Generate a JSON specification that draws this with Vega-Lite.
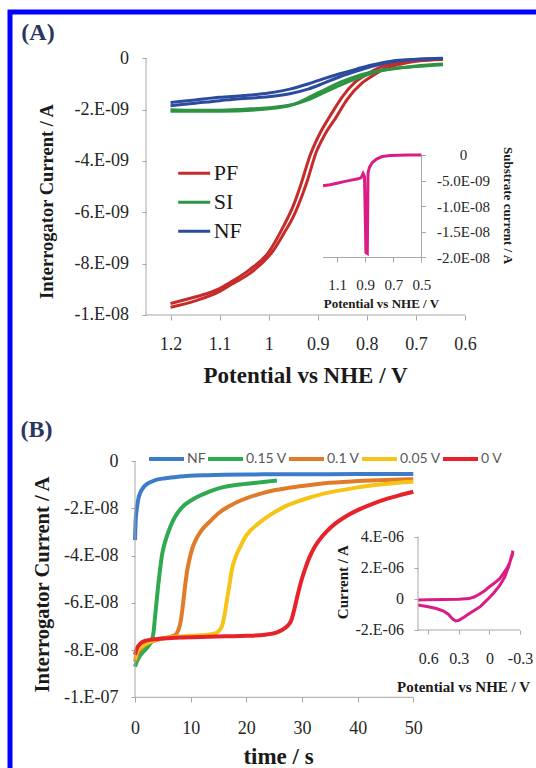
{
  "$schema": "https://vega.github.io/schema/vega-lite/v6.json",
  "width": 532,
  "height": 762,
  "autosize": "none",
  "padding": {"left": 10, "top": 12, "right": -6, "bottom": -6},
  "background": "white",
  "config": {
    "view": {"stroke": "#0000FF", "strokeWidth": 5},
    "axis": {"domain": false, "grid": false, "tickColor": "#A6A6A6", "tickWidth": 1, "labelColor": "#262626", "titleColor": "#1a1a1a", "labelFont": "Liberation Serif", "titleFont": "Liberation Serif", "titleFontWeight": "bold", "labelOverlap": false, "labelFlush": false, "labelBound": false, "titleAlign": "center", "titleBaseline": "middle"}
  },
  "datasets": {
    "pA": [
      {"s":"PF","tr":"a","v":1.2,"i":-9.55e-9},{"s":"PF","tr":"a","v":1.15,"i":-9.3e-9},{"s":"PF","tr":"a","v":1.1,"i":-8.97e-9},{"s":"PF","tr":"a","v":1.08,"i":-8.75e-9},{"s":"PF","tr":"a","v":1.04,"i":-8.25e-9},{"s":"PF","tr":"a","v":1.0,"i":-7.55e-9},{"s":"PF","tr":"a","v":0.97,"i":-6.55e-9},{"s":"PF","tr":"a","v":0.95,"i":-5.75e-9},{"s":"PF","tr":"a","v":0.935,"i":-4.95e-9},{"s":"PF","tr":"a","v":0.915,"i":-3.75e-9},{"s":"PF","tr":"a","v":0.895,"i":-2.9e-9},{"s":"PF","tr":"a","v":0.875,"i":-2.25e-9},{"s":"PF","tr":"a","v":0.85,"i":-1.5e-9},{"s":"PF","tr":"a","v":0.825,"i":-0.95e-9},{"s":"PF","tr":"a","v":0.8,"i":-0.62e-9},{"s":"PF","tr":"a","v":0.773,"i":-0.35e-9},{"s":"PF","tr":"a","v":0.74,"i":-0.2e-9},{"s":"PF","tr":"a","v":0.7,"i":-0.1e-9},{"s":"PF","tr":"a","v":0.645,"i":-0.04e-9},
      {"s":"PF","tr":"b","v":1.2,"i":-9.7e-9},{"s":"PF","tr":"b","v":1.15,"i":-9.45e-9},{"s":"PF","tr":"b","v":1.1,"i":-9.08e-9},{"s":"PF","tr":"b","v":1.08,"i":-8.85e-9},{"s":"PF","tr":"b","v":1.04,"i":-8.4e-9},{"s":"PF","tr":"b","v":0.99,"i":-7.47e-9},{"s":"PF","tr":"b","v":0.97,"i":-6.85e-9},{"s":"PF","tr":"b","v":0.95,"i":-6.18e-9},{"s":"PF","tr":"b","v":0.923,"i":-4.87e-9},{"s":"PF","tr":"b","v":0.903,"i":-3.65e-9},{"s":"PF","tr":"b","v":0.885,"i":-2.95e-9},{"s":"PF","tr":"b","v":0.862,"i":-2.28e-9},{"s":"PF","tr":"b","v":0.84,"i":-1.6e-9},{"s":"PF","tr":"b","v":0.81,"i":-0.97e-9},{"s":"PF","tr":"b","v":0.79,"i":-0.7e-9},{"s":"PF","tr":"b","v":0.765,"i":-0.42e-9},{"s":"PF","tr":"b","v":0.73,"i":-0.22e-9},{"s":"PF","tr":"b","v":0.7,"i":-0.12e-9},{"s":"PF","tr":"b","v":0.645,"i":-0.05e-9},
      {"s":"SI","tr":"a","v":1.2,"i":-2.0e-9},{"s":"SI","tr":"a","v":1.15,"i":-2.02e-9},{"s":"SI","tr":"a","v":1.1,"i":-2.02e-9},{"s":"SI","tr":"a","v":1.05,"i":-1.98e-9},{"s":"SI","tr":"a","v":1.0,"i":-1.93e-9},{"s":"SI","tr":"a","v":0.95,"i":-1.8e-9},{"s":"SI","tr":"a","v":0.92,"i":-1.62e-9},{"s":"SI","tr":"a","v":0.89,"i":-1.36e-9},{"s":"SI","tr":"a","v":0.855,"i":-1.05e-9},{"s":"SI","tr":"a","v":0.82,"i":-0.78e-9},{"s":"SI","tr":"a","v":0.79,"i":-0.58e-9},{"s":"SI","tr":"a","v":0.753,"i":-0.42e-9},{"s":"SI","tr":"a","v":0.7,"i":-0.3e-9},{"s":"SI","tr":"a","v":0.645,"i":-0.22e-9},
      {"s":"SI","tr":"b","v":1.2,"i":-2.06e-9},{"s":"SI","tr":"b","v":1.1,"i":-2.06e-9},{"s":"SI","tr":"b","v":1.0,"i":-1.97e-9},{"s":"SI","tr":"b","v":0.95,"i":-1.8e-9},{"s":"SI","tr":"b","v":0.9,"i":-1.35e-9},{"s":"SI","tr":"b","v":0.85,"i":-0.9e-9},{"s":"SI","tr":"b","v":0.8,"i":-0.58e-9},{"s":"SI","tr":"b","v":0.75,"i":-0.42e-9},{"s":"SI","tr":"b","v":0.7,"i":-0.32e-9},{"s":"SI","tr":"b","v":0.645,"i":-0.25e-9},
      {"s":"NF","tr":"a","v":1.2,"i":-1.72e-9},{"s":"NF","tr":"a","v":1.15,"i":-1.62e-9},{"s":"NF","tr":"a","v":1.1,"i":-1.52e-9},{"s":"NF","tr":"a","v":1.05,"i":-1.45e-9},{"s":"NF","tr":"a","v":1.0,"i":-1.35e-9},{"s":"NF","tr":"a","v":0.957,"i":-1.2e-9},{"s":"NF","tr":"a","v":0.92,"i":-1.0e-9},{"s":"NF","tr":"a","v":0.889,"i":-0.8e-9},{"s":"NF","tr":"a","v":0.855,"i":-0.6e-9},{"s":"NF","tr":"a","v":0.821,"i":-0.42e-9},{"s":"NF","tr":"a","v":0.787,"i":-0.25e-9},{"s":"NF","tr":"a","v":0.753,"i":-0.12e-9},{"s":"NF","tr":"a","v":0.7,"i":-0.04e-9},{"s":"NF","tr":"a","v":0.645,"i":0},
      {"s":"NF","tr":"b","v":1.2,"i":-1.85e-9},{"s":"NF","tr":"b","v":1.15,"i":-1.75e-9},{"s":"NF","tr":"b","v":1.1,"i":-1.65e-9},{"s":"NF","tr":"b","v":1.05,"i":-1.57e-9},{"s":"NF","tr":"b","v":1.0,"i":-1.5e-9},{"s":"NF","tr":"b","v":0.957,"i":-1.38e-9},{"s":"NF","tr":"b","v":0.92,"i":-1.2e-9},{"s":"NF","tr":"b","v":0.889,"i":-0.98e-9},{"s":"NF","tr":"b","v":0.855,"i":-0.72e-9},{"s":"NF","tr":"b","v":0.821,"i":-0.5e-9},{"s":"NF","tr":"b","v":0.787,"i":-0.3e-9},{"s":"NF","tr":"b","v":0.753,"i":-0.15e-9},{"s":"NF","tr":"b","v":0.7,"i":-0.05e-9},{"s":"NF","tr":"b","v":0.645,"i":-0.01e-9}
    ],
    "axA": [{"v":1.25,"i":0,"v2":1.25,"i2":-1e-8},{"v":1.25,"i":-1e-8,"v2":0.6,"i2":-1e-8}],
    "lblA": [{"label":"(A)","v":1.47006,"i":9.856e-10}],
    "inA": [
      {"v":1.2,"i":-6.0e-9},{"v":1.15,"i":-5.8e-9},{"v":1.1,"i":-5.5e-9},{"v":1.05,"i":-5.2e-9},{"v":1.0,"i":-4.9e-9},{"v":0.95,"i":-4.65e-9},{"v":0.93,"i":-4.45e-9},{"v":0.915,"i":-3.6e-9},{"v":0.905,"i":-4.2e-9},{"v":0.895,"i":-1.9e-8},{"v":0.885,"i":-1.92e-8},{"v":0.88,"i":-3.5e-9},{"v":0.87,"i":-2.4e-9},{"v":0.85,"i":-1.5e-9},{"v":0.82,"i":-0.8e-9},{"v":0.78,"i":-0.3e-9},{"v":0.72,"i":-0.1e-9},{"v":0.6,"i":0},{"v":0.5,"i":0}
    ],
    "axInA": [{"v":0.5,"i":0,"v2":0.5,"i2":-2e-8},{"v":1.2,"i":-2e-8,"v2":0.5,"i2":-2e-8}],
    "pB": [
      {"s":"NF","t":0,"c":-3.35e-8},{"s":"NF","t":0.1,"c":-2.6e-8},{"s":"NF","t":0.3,"c":-2.07e-8},{"s":"NF","t":0.6,"c":-1.6e-8},{"s":"NF","t":0.9,"c":-1.37e-8},{"s":"NF","t":1.5,"c":-1.12e-8},{"s":"NF","t":2.4,"c":-9.4e-9},{"s":"NF","t":3.5,"c":-8.2e-9},{"s":"NF","t":5.4,"c":-7.3e-9},{"s":"NF","t":8,"c":-6.6e-9},{"s":"NF","t":13,"c":-6.0e-9},{"s":"NF","t":20,"c":-5.7e-9},{"s":"NF","t":30,"c":-5.6e-9},{"s":"NF","t":40,"c":-5.55e-9},{"s":"NF","t":50,"c":-5.5e-9},
      {"s":"0.15 V","t":0,"c":-8.7e-8},{"s":"0.15 V","t":0.5,"c":-8.4e-8},{"s":"0.15 V","t":1,"c":-8.2e-8},{"s":"0.15 V","t":1.8,"c":-8.0e-8},{"s":"0.15 V","t":2.5,"c":-7.8e-8},{"s":"0.15 V","t":3.0,"c":-7.6e-8},{"s":"0.15 V","t":3.3,"c":-7.3e-8},{"s":"0.15 V","t":3.6,"c":-6.6e-8},{"s":"0.15 V","t":3.9,"c":-5.9e-8},{"s":"0.15 V","t":4.2,"c":-5.2e-8},{"s":"0.15 V","t":4.5,"c":-4.6e-8},{"s":"0.15 V","t":4.8,"c":-4.05e-8},{"s":"0.15 V","t":5.2,"c":-3.6e-8},{"s":"0.15 V","t":5.7,"c":-3.2e-8},{"s":"0.15 V","t":6.4,"c":-2.75e-8},{"s":"0.15 V","t":7.2,"c":-2.36e-8},{"s":"0.15 V","t":8.5,"c":-1.95e-8},{"s":"0.15 V","t":10.2,"c":-1.65e-8},{"s":"0.15 V","t":12.5,"c":-1.38e-8},{"s":"0.15 V","t":15,"c":-1.16e-8},{"s":"0.15 V","t":18,"c":-1.02e-8},{"s":"0.15 V","t":21,"c":-9.4e-9},{"s":"0.15 V","t":25.5,"c":-8.3e-9},
      {"s":"0.1 V","t":0,"c":-8.5e-8},{"s":"0.1 V","t":0.5,"c":-8.15e-8},{"s":"0.1 V","t":1.2,"c":-7.9e-8},{"s":"0.1 V","t":2,"c":-7.75e-8},{"s":"0.1 V","t":3.5,"c":-7.6e-8},{"s":"0.1 V","t":5,"c":-7.5e-8},{"s":"0.1 V","t":6.5,"c":-7.43e-8},{"s":"0.1 V","t":7.3,"c":-7.35e-8},{"s":"0.1 V","t":7.8,"c":-7.15e-8},{"s":"0.1 V","t":8.2,"c":-6.8e-8},{"s":"0.1 V","t":8.5,"c":-6.3e-8},{"s":"0.1 V","t":8.8,"c":-5.7e-8},{"s":"0.1 V","t":9.1,"c":-5.1e-8},{"s":"0.1 V","t":9.4,"c":-4.6e-8},{"s":"0.1 V","t":9.8,"c":-4.15e-8},{"s":"0.1 V","t":10.2,"c":-3.77e-8},{"s":"0.1 V","t":11,"c":-3.3e-8},{"s":"0.1 V","t":12,"c":-2.92e-8},{"s":"0.1 V","t":13.5,"c":-2.55e-8},{"s":"0.1 V","t":15,"c":-2.21e-8},{"s":"0.1 V","t":17,"c":-1.9e-8},{"s":"0.1 V","t":19.2,"c":-1.65e-8},{"s":"0.1 V","t":22,"c":-1.42e-8},{"s":"0.1 V","t":25.2,"c":-1.23e-8},{"s":"0.1 V","t":30,"c":-1.06e-8},{"s":"0.1 V","t":34,"c":-9.4e-9},{"s":"0.1 V","t":40,"c":-8.5e-9},{"s":"0.1 V","t":45,"c":-8.0e-9},{"s":"0.1 V","t":50,"c":-7.7e-9},
      {"s":"0.05 V","t":0,"c":-8.4e-8},{"s":"0.05 V","t":0.5,"c":-8.0e-8},{"s":"0.05 V","t":1.5,"c":-7.8e-8},{"s":"0.05 V","t":3,"c":-7.62e-8},{"s":"0.05 V","t":6,"c":-7.48e-8},{"s":"0.05 V","t":10,"c":-7.4e-8},{"s":"0.05 V","t":13,"c":-7.35e-8},{"s":"0.05 V","t":14.4,"c":-7.3e-8},{"s":"0.05 V","t":15,"c":-7.2e-8},{"s":"0.05 V","t":15.6,"c":-7.0e-8},{"s":"0.05 V","t":16.1,"c":-6.5e-8},{"s":"0.05 V","t":16.5,"c":-5.9e-8},{"s":"0.05 V","t":17,"c":-5.2e-8},{"s":"0.05 V","t":17.4,"c":-4.6e-8},{"s":"0.05 V","t":18.1,"c":-4.05e-8},{"s":"0.05 V","t":18.9,"c":-3.63e-8},{"s":"0.05 V","t":20,"c":-3.15e-8},{"s":"0.05 V","t":22.2,"c":-2.64e-8},{"s":"0.05 V","t":24.5,"c":-2.25e-8},{"s":"0.05 V","t":26.9,"c":-1.93e-8},{"s":"0.05 V","t":30,"c":-1.65e-8},{"s":"0.05 V","t":34.1,"c":-1.37e-8},{"s":"0.05 V","t":38.5,"c":-1.18e-8},{"s":"0.05 V","t":43.1,"c":-1.02e-8},{"s":"0.05 V","t":50,"c":-8.8e-9},
      {"s":"0 V","t":0,"c":-8.2e-8},{"s":"0 V","t":0.3,"c":-7.95e-8},{"s":"0 V","t":1,"c":-7.72e-8},{"s":"0 V","t":2,"c":-7.6e-8},{"s":"0 V","t":4,"c":-7.53e-8},{"s":"0 V","t":7.2,"c":-7.48e-8},{"s":"0 V","t":12,"c":-7.45e-8},{"s":"0 V","t":16.2,"c":-7.42e-8},{"s":"0 V","t":20,"c":-7.4e-8},{"s":"0 V","t":23.4,"c":-7.35e-8},{"s":"0 V","t":25.5,"c":-7.25e-8},{"s":"0 V","t":26.4,"c":-7.15e-8},{"s":"0 V","t":27.3,"c":-7.0e-8},{"s":"0 V","t":28.1,"c":-6.73e-8},{"s":"0 V","t":28.7,"c":-6.2e-8},{"s":"0 V","t":29.3,"c":-5.6e-8},{"s":"0 V","t":29.9,"c":-5.05e-8},{"s":"0 V","t":30.5,"c":-4.61e-8},{"s":"0 V","t":31.3,"c":-4.1e-8},{"s":"0 V","t":32.3,"c":-3.63e-8},{"s":"0 V","t":33.6,"c":-3.2e-8},{"s":"0 V","t":35.3,"c":-2.78e-8},{"s":"0 V","t":37.5,"c":-2.4e-8},{"s":"0 V","t":40.1,"c":-2.07e-8},{"s":"0 V","t":42.8,"c":-1.8e-8},{"s":"0 V","t":45.5,"c":-1.58e-8},{"s":"0 V","t":48,"c":-1.42e-8},{"s":"0 V","t":50,"c":-1.3e-8}
    ],
    "axB": [{"t":0,"c":0,"t2":0,"c2":-1e-7},{"t":0,"c":-1e-7,"t2":50,"c2":-1e-7}],
    "lblB": [{"label":"(B)","t":-17.697,"c":1.3119e-8}],
    "inB": [
      {"k":1,"v":0.7,"c":-0.39e-6},{"k":2,"v":0.6,"c":-0.5e-6},{"k":3,"v":0.52,"c":-0.62e-6},{"k":4,"v":0.45,"c":-0.78e-6},{"k":5,"v":0.4,"c":-1.0e-6},{"k":6,"v":0.36,"c":-1.3e-6},{"k":7,"v":0.33,"c":-1.42e-6},{"k":8,"v":0.3,"c":-1.38e-6},{"k":9,"v":0.25,"c":-1.18e-6},{"k":10,"v":0.2,"c":-0.96e-6},{"k":11,"v":0.15,"c":-0.75e-6},{"k":12,"v":0.09,"c":-0.5e-6},{"k":13,"v":0.02,"c":-0.05e-6},{"k":14,"v":-0.04,"c":0.36e-6},{"k":15,"v":-0.1,"c":0.85e-6},{"k":16,"v":-0.15,"c":1.4e-6},{"k":17,"v":-0.19,"c":2.1e-6},{"k":18,"v":-0.225,"c":2.95e-6},{"k":19,"v":-0.23,"c":3.1e-6},
      {"k":20,"v":-0.225,"c":2.85e-6},{"k":21,"v":-0.2,"c":2.35e-6},{"k":22,"v":-0.17,"c":1.95e-6},{"k":23,"v":-0.136,"c":1.62e-6},{"k":24,"v":-0.1,"c":1.3e-6},{"k":25,"v":-0.05,"c":1.02e-6},{"k":26,"v":0.0,"c":0.78e-6},{"k":27,"v":0.05,"c":0.5e-6},{"k":28,"v":0.1,"c":0.3e-6},{"k":29,"v":0.15,"c":0.12e-6},{"k":30,"v":0.2,"c":0.02e-6},{"k":31,"v":0.3,"c":-0.02e-6},{"k":32,"v":0.45,"c":-0.04e-6},{"k":33,"v":0.6,"c":-0.05e-6},{"k":34,"v":0.7,"c":-0.07e-6}
    ],
    "axInB": [{"v":0.7,"c":4e-6,"v2":0.7,"c2":-2e-6},{"v":0.7,"c":-2e-6,"v2":-0.3,"c2":-2e-6}]
  },
  "layer": [
    {
      "data": {"name": "pA"},
      "mark": {"type": "line", "strokeWidth": 3, "interpolate": "monotone"},
      "encoding": {
        "x": {"field": "v", "type": "quantitative", "scale": {"domain": [1.52712, 0.4431], "nice": false, "zero": false},
          "axis": {"orient": "bottom", "offset": -459, "values": [1.2, 1.1, 1, 0.9, 0.8, 0.7, 0.6], "labelExpr": "datum.value + ''", "tickSize": 5, "labelBaseline": "middle", "labelPadding": 24, "labelFontSize": 18, "title": "Potential vs NHE / V", "titleFontSize": 23, "titleX": 295, "titleY": 60}},
        "y": {"field": "i", "type": "quantitative", "scale": {"domain": [-2.78808e-8, 1.80366e-9], "nice": false, "zero": false},
          "axis": {"orient": "left", "offset": -136, "values": [0, -2e-9, -4e-9, -6e-9, -8e-9, -1e-8], "labelExpr": "datum.value == 0 ? '0' : (datum.value < 0 ? '-' : '') + replace(format(abs(datum.value), '.0e'), 'e-', '.E-0')", "tickSize": 4, "labelPadding": 13.5, "labelFontSize": 18, "title": "Interrogator Current / A", "titleFontSize": 18.5, "titleAngle": -90, "titleX": -100, "titleY": 189}},
        "color": {"field": "s", "type": "nominal", "scale": {"domain": ["PF", "SI", "NF"], "range": ["#C62B2B", "#2E9444", "#2A4B9E"]},
          "legend": {"orient": "none", "legendX": 166.7, "legendY": 143.7, "title": null, "symbolType": "stroke", "symbolSize": 1024, "symbolStrokeWidth": 3, "labelFont": "Liberation Serif", "labelFontSize": 22, "labelColor": "#1a1a1a", "labelOffset": 2, "rowPadding": 0, "padding": 0}},
        "detail": {"field": "tr", "type": "nominal"}
      }
    },
    {
      "data": {"name": "axA"},
      "mark": {"type": "rule", "color": "#A6A6A6", "strokeWidth": 1},
      "encoding": {
        "x": {"field": "v", "type": "quantitative", "scale": {"domain": [1.52712, 0.4431], "nice": false, "zero": false}, "axis": null},
        "y": {"field": "i", "type": "quantitative", "scale": {"domain": [-2.78808e-8, 1.80366e-9], "nice": false, "zero": false}, "axis": null},
        "x2": {"field": "v2"},
        "y2": {"field": "i2"}
      }
    },
    {
      "data": {"name": "lblA"},
      "mark": {"type": "text", "font": "Liberation Serif", "fontWeight": "bold", "fontSize": 24, "color": "#2B3560", "align": "center", "baseline": "middle"},
      "encoding": {
        "x": {"field": "v", "type": "quantitative", "scale": {"domain": [1.52712, 0.4431], "nice": false, "zero": false}, "axis": null},
        "y": {"field": "i", "type": "quantitative", "scale": {"domain": [-2.78808e-8, 1.80366e-9], "nice": false, "zero": false}, "axis": null},
        "text": {"field": "label"}
      }
    },
    {
      "data": {"name": "inA"},
      "mark": {"type": "line", "strokeWidth": 3, "color": "#DC1C86"},
      "encoding": {
        "x": {"field": "v", "type": "quantitative", "scale": {"domain": [3.42443, -0.35639], "nice": false, "zero": false},
          "axis": {"orient": "bottom", "offset": -517, "values": [1.1, 0.9, 0.7, 0.5], "labelExpr": "datum.value + ''", "tickSize": 5, "labelBaseline": "middle", "labelPadding": 22, "labelFontSize": 15, "title": "Potential vs NHE / V", "titleFontSize": 13, "titleX": 370.9, "titleY": 46}},
        "y": {"field": "i", "type": "quantitative", "scale": {"domain": [-1.207805e-7, 2.79024e-8], "nice": false, "zero": false},
          "axis": {"orient": "right", "offset": -120.5, "values": [0, -5e-9, -1e-8, -1.5e-8, -2e-8], "labelExpr": "datum.value == 0 ? '0' : (datum.value < 0 ? '-' : '') + replace(format(abs(datum.value), '.1e'), 'e-', 'E-0')", "tickSize": 4, "labelAlign": "center", "labelPadding": 37.5, "labelFontSize": 15, "title": "Substrate current / A", "titleFontSize": 13, "titleAngle": 90, "titleX": 85.5, "titleY": 193}}
      }
    },
    {
      "data": {"name": "axInA"},
      "mark": {"type": "rule", "color": "#A6A6A6", "strokeWidth": 1},
      "encoding": {
        "x": {"field": "v", "type": "quantitative", "scale": {"domain": [3.42443, -0.35639], "nice": false, "zero": false}, "axis": null},
        "y": {"field": "i", "type": "quantitative", "scale": {"domain": [-1.207805e-7, 2.79024e-8], "nice": false, "zero": false}, "axis": null},
        "x2": {"field": "v2"},
        "y2": {"field": "i2"}
      }
    },
    {
      "data": {"name": "pB"},
      "mark": {"type": "line", "strokeWidth": 4, "interpolate": "monotone"},
      "encoding": {
        "x": {"field": "t", "type": "quantitative", "scale": {"domain": [-22.4578, 73.1225], "nice": false, "zero": false},
          "axis": {"orient": "bottom", "offset": -77, "values": [0, 10, 20, 30, 40, 50], "labelExpr": "datum.value + ''", "tickSize": 5, "labelBaseline": "middle", "labelPadding": 26, "labelFontSize": 18, "title": "time / s", "titleFontSize": 23, "titleX": 268, "titleY": 59.7}},
        "y": {"field": "c", "type": "quantitative", "scale": {"domain": [-1.324587e-7, 1.900127e-7], "nice": false, "zero": false},
          "axis": {"orient": "left", "offset": -125, "values": [0, -2e-8, -4e-8, -6e-8, -8e-8, -1e-7], "labelExpr": "datum.value == 0 ? '0' : (datum.value < 0 ? '-' : '') + replace(format(abs(datum.value), '.0e'), 'e-', '.E-0')", "tickSize": 4, "labelPadding": 13, "labelFontSize": 18, "title": "Interrogator Current / A", "titleFontSize": 20.5, "titleAngle": -90, "titleX": -92.3, "titleY": 572}},
        "color": {"field": "s", "type": "nominal", "scale": {"domain": ["NF", "0.15 V", "0.1 V", "0.05 V", "0 V"], "range": ["#3D7CC9", "#2FAA50", "#E07B2A", "#F6C416", "#E8222B"]},
          "legend": {"orient": "none", "direction": "horizontal", "legendX": 137, "legendY": 427.2, "title": null, "symbolType": "stroke", "symbolSize": 1225, "symbolStrokeWidth": 4, "labelFont": "Lato", "labelFontSize": 14, "labelColor": "#595959", "labelOffset": 1, "columnPadding": -6, "padding": 0}}
      }
    },
    {
      "data": {"name": "axB"},
      "mark": {"type": "rule", "color": "#A6A6A6", "strokeWidth": 1},
      "encoding": {
        "x": {"field": "t", "type": "quantitative", "scale": {"domain": [-22.4578, 73.1225], "nice": false, "zero": false}, "axis": null},
        "y": {"field": "c", "type": "quantitative", "scale": {"domain": [-1.324587e-7, 1.900127e-7], "nice": false, "zero": false}, "axis": null},
        "x2": {"field": "t2"},
        "y2": {"field": "c2"}
      }
    },
    {
      "data": {"name": "lblB"},
      "mark": {"type": "text", "font": "Liberation Serif", "fontWeight": "bold", "fontSize": 24, "color": "#2B3560", "align": "center", "baseline": "middle"},
      "encoding": {
        "x": {"field": "t", "type": "quantitative", "scale": {"domain": [-22.4578, 73.1225], "nice": false, "zero": false}, "axis": null},
        "y": {"field": "c", "type": "quantitative", "scale": {"domain": [-1.324587e-7, 1.900127e-7], "nice": false, "zero": false}, "axis": null},
        "text": {"field": "label"}
      }
    },
    {
      "data": {"name": "inB"},
      "mark": {"type": "line", "strokeWidth": 3, "color": "#DC1C86"},
      "encoding": {
        "x": {"field": "v", "type": "quantitative", "scale": {"domain": [4.7, -0.515686], "nice": false, "zero": false},
          "axis": {"orient": "bottom", "offset": -144, "values": [0.6, 0.3, 0, -0.3], "labelExpr": "datum.value + ''", "tickSize": 4, "labelBaseline": "middle", "labelPadding": 24, "labelFontSize": 16, "title": "Potential vs NHE / V", "titleFontSize": 15, "titleX": 453, "titleY": 56.7}},
        "y": {"field": "c", "type": "quantitative", "scale": {"domain": [-1.12605e-5, 3.77428e-5], "nice": false, "zero": false},
          "axis": {"orient": "left", "offset": -408, "values": [4e-6, 2e-6, 0, -2e-6], "labelExpr": "datum.value == 0 ? '0' : (datum.value < 0 ? '-' : '') + replace(format(abs(datum.value), '.0e'), 'e-', '.E-0')", "tickSize": 4, "labelPadding": 10.6, "labelFontSize": 16, "title": "Current / A", "titleFontSize": 15, "titleAngle": -90, "titleX": -76, "titleY": 569.7}},
        "order": {"field": "k", "type": "quantitative"}
      }
    },
    {
      "data": {"name": "axInB"},
      "mark": {"type": "rule", "color": "#A6A6A6", "strokeWidth": 1},
      "encoding": {
        "x": {"field": "v", "type": "quantitative", "scale": {"domain": [4.7, -0.515686], "nice": false, "zero": false}, "axis": null},
        "y": {"field": "c", "type": "quantitative", "scale": {"domain": [-1.12605e-5, 3.77428e-5], "nice": false, "zero": false}, "axis": null},
        "x2": {"field": "v2"},
        "y2": {"field": "c2"}
      }
    }
  ],
  "resolve": {"scale": {"x": "independent", "y": "independent", "color": "independent"}}
}
